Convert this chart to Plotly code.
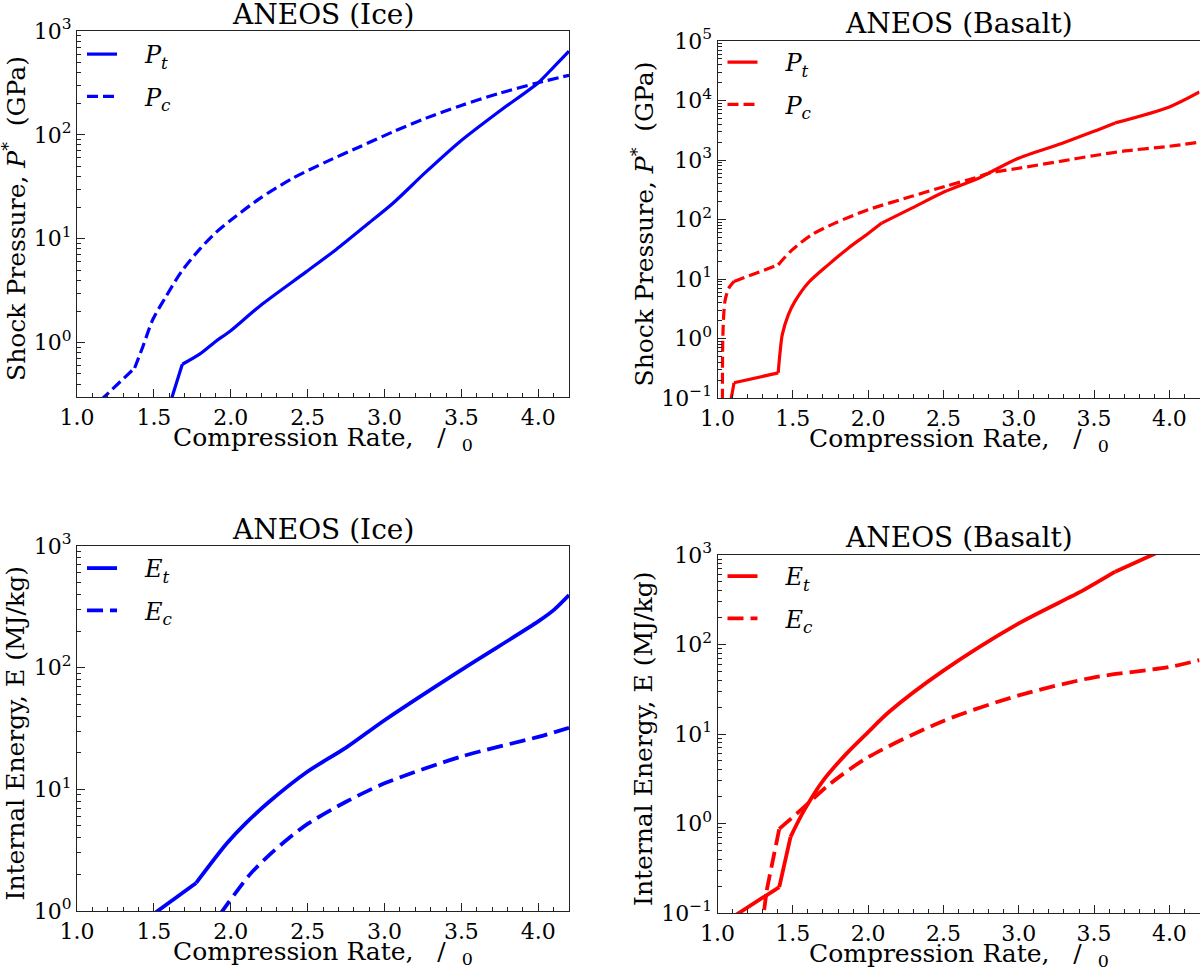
import numpy as np
import plotly.graph_objects as go

# ---------------- data ----------------
ice_pt_x = [1.612, 1.685, 1.80, 1.906, 1.993, 2.19, 2.49, 2.686, 2.88, 3.055, 3.27, 3.49, 3.75, 4.0, 4.1, 4.2]
ice_pt_y = [0.28, 0.62, 0.78, 1.04, 1.28, 2.26, 4.8, 7.9, 13.5, 22, 44, 86, 170, 318, 450, 640]
ice_pc_x = [1.155, 1.375, 1.43, 1.494, 1.58, 1.678, 1.80, 1.906, 2.01, 2.19, 2.40, 2.62, 2.84, 3.055,
            3.27, 3.49, 3.75, 4.0, 4.2]
ice_pc_y = [0.28, 0.57, 0.93, 1.68, 2.8, 4.8, 8.0, 11.6, 15.5, 24.5, 38, 55, 77, 107, 145, 190, 252,
            318, 375]

bas_pt_x = [1.08, 1.11, 1.403, 1.414, 1.43, 1.47, 1.514, 1.60, 1.735, 1.868, 2.0, 2.09, 2.29, 2.51,
            2.73, 2.80, 2.99, 3.285, 3.495, 3.64, 4.0, 4.2]
bas_pt_y = [0.07, 0.18, 0.265, 0.54, 1.16, 2.5, 4.2, 8.5, 17.3, 33, 58, 87, 155, 295, 490, 600, 1050,
            1900, 3000, 4200, 7800, 13900]
bas_pc_x = [1.033, 1.036, 1.05, 1.075, 1.11, 1.403, 1.49, 1.624, 1.78, 2.0, 2.29, 2.51, 2.73, 2.80,
            2.99, 3.285, 3.495, 3.705, 4.0, 4.2]
bas_pc_y = [0.05, 1.2, 4.3, 7.0, 9.1, 17.3, 30, 55, 87, 146, 245, 360, 520, 600, 720, 960, 1180, 1420,
            1700, 2000]

ice_et_x = [1.5, 1.775, 1.975, 2.1, 2.25, 2.5, 2.75, 3.0, 3.5, 4.0, 4.1, 4.2]
ice_et_y = [0.95, 1.7, 3.6, 5.3, 7.9, 14, 22, 37, 96, 240, 297, 395]
ice_ec_x = [1.93, 2.125, 2.25, 2.375, 2.5, 2.75, 3.0, 3.5, 4.0, 4.2]
ice_ec_y = [0.94, 2.0, 2.88, 3.94, 5.2, 7.9, 11.2, 18.6, 27, 32]

bas_et_x = [1.1, 1.41, 1.485, 1.575, 1.70, 1.855, 2.0, 2.14, 2.5, 3.0, 3.43, 3.64, 3.885, 4.2]
bas_et_y = [0.09, 0.195, 0.71, 1.4, 3.0, 6.0, 10.5, 17.7, 51, 172, 405, 650, 1000, 1750]
bas_ec_x = [1.29, 1.327, 1.41, 1.55, 1.75, 2.0, 2.5, 3.0, 3.5, 4.0, 4.2]
bas_ec_y = [0.06, 0.18, 0.87, 1.4, 2.8, 5.5, 14, 27, 43, 56, 67]

titles = ["ANEOS (Ice)", "ANEOS (Basalt)", "ANEOS (Ice)", "ANEOS (Basalt)"]
xlabel = "Compression Rate,\u00a0\u00a0\u00a0/\u00a0\u00a0<sub>0</sub>"
ylabel_p = "Shock Pressure, <i>P</i><sup>*</sup>\u00a0 (GPa)"
ylabel_e = "Internal Energy, E (MJ/kg)"

BLUE = "rgb(0,0,255)"
RED = "rgb(255,0,0)"
FONT = "DejaVu Serif"
W, H = 1200, 969

# axis boxes in pixels: (left, right, top, bottom)
boxes = [(77, 569, 31, 397), (717.5, 1199.5, 41, 398), (77, 569, 546, 911), (717.5, 1199.5, 555, 913)]
yranges = [(0.3, 1e3), (0.1, 1e5), (1.0, 1e3), (0.1, 1e3)]
title_y = [15, 23, 529, 537]
legend_rows = [54, 62, 568, 576]
ylabel_x = [15, 643, 15, 643]

# indices of sharp corners in each curve (curve is smooth between them)
series = [
    (ice_pt_x, ice_pt_y, [1], ice_pc_x, ice_pc_y, [1], BLUE, "P"),
    (bas_pt_x, bas_pt_y, [1, 2, 11, 19], bas_pc_x, bas_pc_y, [4, 5], RED, "P"),
    (ice_et_x, ice_et_y, [1], ice_ec_x, ice_ec_y, [], BLUE, "E"),
    (bas_et_x, bas_et_y, [1, 2, 11], bas_ec_x, bas_ec_y, [1, 2], RED, "E"),
]


def pieces(xs, ys, corners):
    idx = [0] + list(corners) + [len(xs) - 1]
    return [(xs[a:b + 1], ys[a:b + 1]) for a, b in zip(idx[:-1], idx[1:])]


fig = go.Figure()
pad = "\u00a0\u00a0\u00a0"
for i, (xt, yt, ct, xc, yc, cc, col, sym) in enumerate(series):
    n = "" if i == 0 else str(i + 1)
    lw = 3.2 if i < 2 else 3.8
    dash = "11px,5px" if i < 2 else "16px,7px"
    leg = "legend" + n
    for xs, ys, corners, sub, dsh in ((xt, yt, ct, "t", "solid"), (xc, yc, cc, "c", dash)):
        for j, (px, py) in enumerate(pieces(xs, ys, corners)):
            fig.add_trace(go.Scatter(
                x=px, y=py, mode="lines",
                line=dict(color=col, width=lw, dash=dsh, shape="spline", smoothing=0.8),
                name=f"{pad}<i>{sym}</i><sub><i>{sub}</i></sub>", xaxis="x" + n, yaxis="y" + n,
                legend=leg, legendgroup=f"g{i}{sub}", showlegend=(j == 0)))

layout = dict(width=W, height=H, margin=dict(l=0, r=0, t=0, b=0, autoexpand=False),
              paper_bgcolor="white", plot_bgcolor="white", showlegend=True,
              font=dict(family=FONT, color="black", size=22))

annotations = []
for i, (l, r, t, b) in enumerate(boxes):
    n = "" if i == 0 else str(i + 1)
    lo, hi = yranges[i]
    lo_e, hi_e = int(np.floor(np.log10(lo) + 1e-9)), int(np.round(np.log10(hi)))
    major, labels = [], []
    for k in range(lo_e, hi_e + 1):
        if 10.0 ** k >= lo * 0.999:
            major.append(10.0 ** k)
            labels.append("10<sup>" + (str(k) if k >= 0 else "\u2212" + str(-k)) + "</sup>")
    minor = [m * 10.0 ** k for k in range(lo_e - 1, hi_e) for m in range(2, 10)
             if lo <= m * 10.0 ** k <= hi]
    layout["xaxis" + n] = dict(
        domain=[l / W, r / W], anchor="y" + n, range=[1.0, 4.2], automargin=False,
        tickmode="linear", tick0=1.0, dtick=0.5, tickformat=".1f",
        ticks="inside", ticklen=8, tickwidth=1, tickcolor="#222",
        minor=dict(ticks="inside", dtick=0.1, tick0=1.0, ticklen=4, tickwidth=1, tickcolor="#222"),
        showline=True, mirror=True, linecolor="#222", linewidth=1.3,
        showgrid=False, zeroline=False, tickfont=dict(family=FONT, size=22))
    layout["yaxis" + n] = dict(
        domain=[1 - b / H, 1 - t / H], anchor="x" + n, type="log", automargin=False,
        range=[np.log10(lo), np.log10(hi)],
        tickmode="array", tickvals=major, ticktext=labels,
        ticks="inside", ticklen=8, tickwidth=1, tickcolor="#222",
        minor=dict(ticks="inside", tickmode="array", tickvals=minor, ticklen=4, tickwidth=1,
                   tickcolor="#222"),
        showline=True, mirror=True, linecolor="#222", linewidth=1.3,
        showgrid=False, zeroline=False, tickfont=dict(family=FONT, size=22))
    layout["legend" + n] = dict(
        x=(l + 5) / W, y=1 - (legend_rows[i] - 22) / H, xanchor="left", yanchor="top",
        bgcolor="rgba(0,0,0,0)", font=dict(family=FONT, size=24, color="black"),
        tracegroupgap=8, itemwidth=30)
    cx = (l + r) / 2 / W
    annotations.append(dict(text=titles[i], x=cx, y=1 - title_y[i] / H, xref="paper", yref="paper",
                            xanchor="center", yanchor="middle", showarrow=False,
                            font=dict(family=FONT, size=28, color="black")))
    annotations.append(dict(text=xlabel, x=cx, y=1 - (b + 42) / H, xref="paper", yref="paper",
                            xanchor="center", yanchor="middle", showarrow=False,
                            font=dict(family=FONT, size=25, color="black")))
    annotations.append(dict(text=ylabel_p if i < 2 else ylabel_e, x=ylabel_x[i] / W,
                            y=1 - ((t + b) / 2 + 5) / H, xref="paper", yref="paper",
                            xanchor="center", yanchor="middle", textangle=-90, showarrow=False,
                            font=dict(family=FONT, size=25, color="black")))

layout["annotations"] = annotations
fig.update_layout(**layout)
fig.write_html("out.html", config={"displayModeBar": False},
               post_script="document.body.style.margin='0px';")
